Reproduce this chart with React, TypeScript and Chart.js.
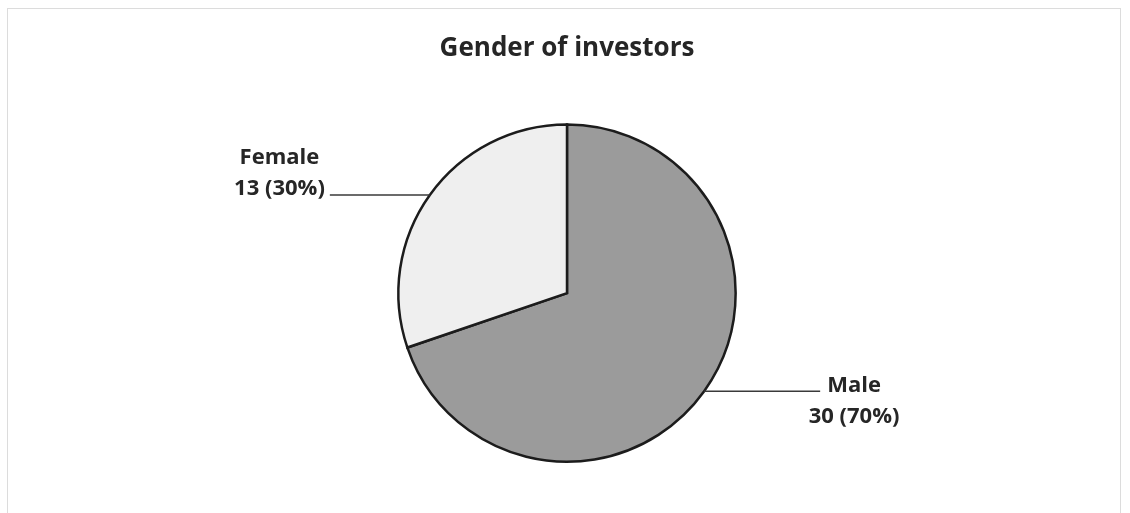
import React, { useEffect, useRef } from "react";
import { Chart, registerables } from "chart.js";

Chart.register(...registerables);

const categories = ["Male", "Female"];
const counts = [30, 13];
const percentLabels = ["70%", "30%"];
const sliceColors = ["#9b9b9b", "#efefef"];
const titleText = "Gender of investors";

const FONT = "'Open Sans', 'Liberation Sans', sans-serif";

const leaderPlugin = {
  id: "leaderLabels",
  afterDatasetsDraw(chart: any) {
    const ctx = chart.ctx;
    const meta = chart.getDatasetMeta(0);
    ctx.save();
    meta.data.forEach((arc: any, i: number) => {
      const { x, y, startAngle, endAngle, outerRadius } = arc.getProps(
        ["x", "y", "startAngle", "endAngle", "outerRadius"],
        true
      );
      const mid = (startAngle + endAngle) / 2;
      const px = x + Math.cos(mid) * outerRadius;
      const py = y + Math.sin(mid) * outerRadius;
      const right = Math.cos(mid) >= 0;
      const len = right ? 116 : 100;
      const ex = right ? px + len : px - len;
      ctx.strokeStyle = "#3a3a3a";
      ctx.lineWidth = 1.5;
      ctx.beginPath();
      ctx.moveTo(px, py);
      ctx.lineTo(ex, py);
      ctx.stroke();

      ctx.font = `bold 22px ${FONT}`;
      ctx.fillStyle = "#262626";
      ctx.textAlign = "center";
      ctx.textBaseline = "middle";
      const l1 = categories[i];
      const l2 = `${counts[i]} (${percentLabels[i]})`;
      if (right) {
        const w1 = ctx.measureText(l1).width;
        const cx = ex + 7 + w1 / 2;
        ctx.fillText(l1, cx, py - 5);
        ctx.fillText(l2, cx, py + 26);
      } else {
        const w = Math.max(ctx.measureText(l1).width, ctx.measureText(l2).width);
        const cx = ex - 5 - w / 2;
        ctx.fillText(l1, cx, py - 37);
        ctx.fillText(l2, cx, py - 6);
      }
    });
    ctx.restore();
  },
};

export default function App() {
  const ref = useRef<HTMLCanvasElement>(null);
  useEffect(() => {
    if (!ref.current) return;
    const chart = new Chart(ref.current, {
      type: "pie",
      data: {
        labels: categories,
        datasets: [
          {
            data: counts,
            backgroundColor: sliceColors,
            borderColor: "#1c1c1c",
            borderWidth: 2.5,
            borderJoinStyle: "miter",
          } as any,
        ],
      },
      options: {
        responsive: false,
        animation: false,
        events: [],
        layout: { padding: { top: 0, bottom: 50, left: 4, right: 0 } },
        plugins: {
          legend: { display: false },
          tooltip: { enabled: false },
          title: {
            display: true,
            text: titleText,
            color: "#262626",
            font: { family: FONT, size: 26, weight: "bold", lineHeight: 1.2 },
            padding: { top: 33, bottom: 59 },
          },
        },
      },
      plugins: [leaderPlugin],
    });
    return () => chart.destroy();
  }, []);

  return (
    <div style={{ position: "fixed", left: 0, top: 0, width: 1130, height: 513, background: "#fff" }}>
      <div
        style={{
          position: "absolute",
          left: 7,
          top: 8,
          width: 1114,
          height: 520,
          border: "1px solid #dcdcdc",
          boxSizing: "border-box",
        }}
      />
      <canvas ref={ref} width={1130} height={513} style={{ position: "absolute", left: 0, top: 0 }} />
    </div>
  );
}
